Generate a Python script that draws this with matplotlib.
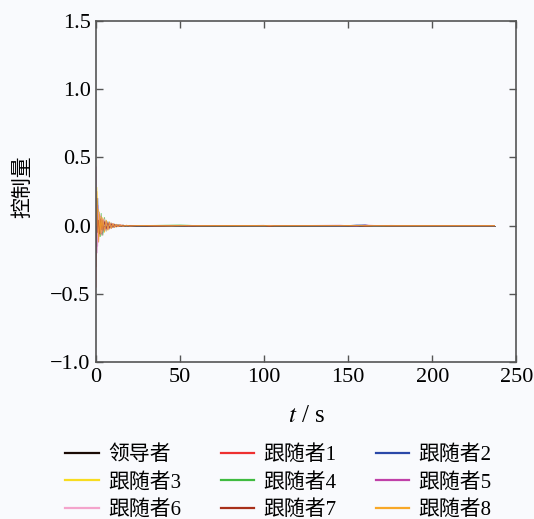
import matplotlib
matplotlib.use('Agg')
import matplotlib.pyplot as plt

plt.rcParams['font.family'] = ['Liberation Serif', 'Noto Sans CJK SC']
plt.rcParams['mathtext.fontset'] = 'stix'
plt.rcParams['axes.unicode_minus'] = True

# time samples (s): dense during the transient, sparse afterwards
t = [0, 0.5, 1, 1.5, 2, 2.5, 3, 3.5, 4, 5, 6, 7, 8, 9, 10, 11, 12, 13, 14, 16, 18, 20,
     25, 35, 45, 50, 55, 60, 100, 103, 106, 145, 155, 160, 165, 175, 200, 237]

leader = [0.0] * 38
f1 = [-0.45, 0.12, 0.05, -0.06, 0.08, -0.04, 0.06, -0.03, 0.04, -0.03, 0.03, -0.02, 0.02, -0.015, 0.012, -0.01, 0.008, -0.006, 0.005, 0.003, -0.002, 0.001,
      0.001, -0.001, 0.0, 0.001, 0.0, 0.0, 0.002, -0.003, 0.001, 0.0, 0.002, -0.002, 0.001, 0.0, 0.001, 0.0]
f2 = [0.1, -0.15, 0.2, -0.08, -0.05, 0.07, -0.06, 0.04, -0.05, 0.04, -0.03, 0.025, -0.02, 0.015, -0.012, 0.01, -0.008, 0.006, -0.004, 0.003, -0.002, 0.001,
      0.0, 0.001, 0.0, 0.0, 0.001, 0.0, 0.001, 0.002, 0.0, -0.004, 0.005, 0.006, -0.004, 0.002, 0.0, 0.0]
f3 = [0.0, 0.28, -0.1, 0.12, -0.08, 0.06, -0.07, 0.05, 0.06, -0.05, 0.04, -0.035, 0.03, -0.02, 0.015, -0.012, 0.01, -0.008, 0.005, -0.003, 0.002, -0.001,
      0.001, 0.0, -0.001, 0.0, 0.001, 0.0, 0.0, 0.001, 0.0, 0.0, 0.001, 0.0, -0.001, 0.0, 0.0, 0.0]
f4 = [-0.05, 0.18, -0.06, 0.1, 0.02, -0.08, 0.09, -0.03, -0.07, 0.06, -0.04, 0.03, -0.025, 0.02, -0.015, 0.012, -0.01, 0.008, -0.006, 0.004, -0.003, 0.002,
      0.001, 0.002, 0.004, 0.005, 0.003, 0.0, 0.0, -0.001, 0.0, 0.0, 0.001, 0.002, 0.0, 0.0, 0.0, 0.0]
f5 = [0.43, -0.2, 0.15, -0.12, 0.08, -0.06, 0.05, -0.07, 0.05, -0.04, 0.035, -0.03, 0.025, -0.02, 0.016, -0.012, 0.01, -0.008, 0.006, -0.004, 0.003, -0.002,
      0.001, 0.0, 0.0, 0.001, 0.0, 0.0, 0.0, 0.001, 0.0, 0.003, -0.002, 0.004, 0.002, 0.0, 0.0, 0.0]
f6 = [0.3, 0.0, -0.15, 0.1, -0.05, 0.08, -0.05, 0.06, -0.04, 0.05, -0.04, 0.03, -0.025, 0.02, -0.015, 0.012, -0.009, 0.007, -0.005, 0.003, -0.002, 0.001,
      0.0, 0.001, 0.0, 0.0, 0.0, 0.001, 0.0, 0.0, 0.001, 0.0, 0.0, 0.001, 0.0, 0.0, 0.0, 0.0]
f7 = [-0.3, 0.2, -0.05, 0.04, -0.06, 0.05, -0.03, 0.04, -0.035, 0.03, -0.025, 0.02, -0.018, 0.014, -0.011, 0.009, -0.007, 0.005, -0.004, 0.002, -0.001, 0.001,
      0.0, 0.0, 0.001, 0.0, 0.0, 0.0, 0.002, -0.003, 0.0, 0.0, 0.001, 0.0, 0.0, 0.0, 0.0, 0.0]
f8 = [0.0, 0.25, 0.02, -0.12, 0.1, -0.06, 0.07, -0.05, 0.05, -0.045, 0.04, -0.03, 0.025, -0.02, 0.016, -0.013, 0.01, -0.008, 0.006, -0.004, 0.003, -0.002,
      0.001, 0.0, 0.0, 0.001, 0.0, 0.0, 0.001, 0.0, 0.0, 0.0, 0.001, 0.0, 0.0, 0.0, 0.0, 0.0]

labels = ['领导者', '跟随者1', '跟随者2', '跟随者3', '跟随者4',
          '跟随者5', '跟随者6', '跟随者7', '跟随者8']
colors = ['#1a0a05', '#ee3030', '#2a48a8', '#f8dc20', '#40bb40',
          '#c040a8', '#f4a4cc', '#a8301a', '#f8a828']
series = [leader, f1, f2, f3, f4, f5, f6, f7, f8]

bg = '#f9fafd'
fig = plt.figure(figsize=(5.34, 5.19), dpi=100, facecolor=bg)
ax = fig.add_axes([0.180, 0.302, 0.787, 0.658])
ax.set_facecolor(bg)

handles = []
for y, c, lab in zip(series, colors, labels):
    h, = ax.plot(t, y, color=c, lw=0.6, alpha=0.8, label=lab)
    handles.append(h)

ax.set_xlim(0, 250)
ax.set_ylim(-1.0, 1.5)
ax.set_xticks([0, 50, 100, 150, 200, 250])
ax.set_yticks([-1.0, -0.5, 0.0, 0.5, 1.0, 1.5])
ax.set_yticklabels(['\u22121.0', '\u22120.5', '0.0', '0.5', '1.0', '1.5'])
ax.tick_params(direction='in', length=5, width=1, color='#555555',
               top=True, right=True, labelsize=16, pad=4)
for s in ax.spines.values():
    s.set_color('#555555')
    s.set_linewidth(1.2)

ax.set_xlabel('$t$ / s', fontsize=18)
ax.xaxis.set_label_coords(0.5, -0.125)
ax.set_ylabel('控制量', fontsize=15)
ax.yaxis.set_label_coords(-0.15, 0.515)

# legend is filled column-wise, so reorder to read row by row
order = [0, 3, 6, 1, 4, 7, 2, 5, 8]
leg = ax.legend([handles[i] for i in order], [labels[i] for i in order],
                ncol=3, frameon=False, fontsize=15, loc='upper center',
                bbox_to_anchor=(0.434, -0.218), handlelength=1.6, handletextpad=0.45,
                columnspacing=1.9, labelspacing=0.38, borderaxespad=0)
for line in leg.get_lines():
    line.set_linewidth(1.6)
    line.set_alpha(1)

fig.savefig('out.png', dpi=100, facecolor=bg)
